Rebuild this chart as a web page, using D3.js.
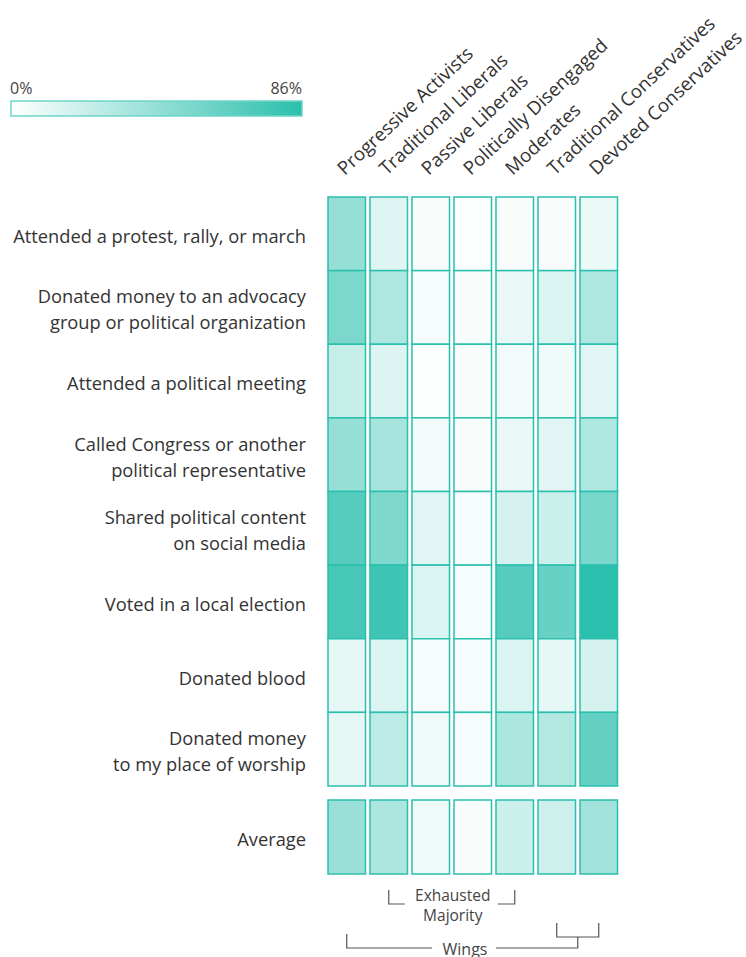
<!DOCTYPE html>
<html>
<head>
<meta charset="utf-8">
<script src="https://cdn.jsdelivr.net/npm/d3@7"></script>
<style>
  body { margin: 0; background: #fff; }
  svg { display: block; font-family: "Open Sans", Lato, sans-serif; }
</style>
</head>
<body>
<svg id="chart" width="746" height="957"></svg>
<script>
// groups (columns)
let groups = ["Progressive Activists", "Traditional Liberals", "Passive Liberals",
    "Politically Disengaged", "Moderates", "Traditional Conservatives", "Devoted Conservatives"];

// activities (rows), each label split into lines
let activities = [
    ["Attended a protest, rally, or march"],
    ["Donated money to an advocacy", "group or political organization"],
    ["Attended a political meeting"],
    ["Called Congress or another", "political representative"],
    ["Shared political content", "on social media"],
    ["Voted in a local election"],
    ["Donated blood"],
    ["Donated money", "to my place of worship"]
];

// percent of each group, one array per activity
let protestVals   = [43, 13, 3, 2, 3, 3, 8];
let donatedVals   = [53, 33, 4, 3, 9, 15, 33];
let meetingVals   = [23, 14, 2, 3, 5, 6, 12];
let congressVals  = [43, 36, 5, 3, 9, 12, 33];
let sharedVals    = [69, 52, 12, 4, 17, 21, 54];
let votedVals     = [75, 78, 15, 4, 69, 62, 86];
let bloodVals     = [10, 15, 4, 4, 15, 10, 17];
let worshipVals   = [10, 27, 7, 4, 34, 31, 63];
let averageVals   = [41, 34, 7, 3, 21, 20, 38];

let rowValues = [protestVals, donatedVals, meetingVals, congressVals,
    sharedVals, votedVals, bloodVals, worshipVals];

let legendMin = 0, legendMax = 86;
let teal = "#2bbfad";

let svg = d3.select("#chart");

let x = d3.scaleBand()
    .domain(groups)
    .range([328, 617.5])
    .paddingInner(0.107);

let y = d3.scaleBand()
    .domain(d3.range(activities.length))
    .range([197, 786]);

let color = d3.scaleLinear()
    .domain([legendMin, legendMax])
    .range(["#ffffff", teal]);

// legend
let defs = svg.append("defs");
let grad = defs.append("linearGradient").attr("id", "legendGrad");
grad.append("stop").attr("offset", "0%").attr("stop-color", color(legendMin));
grad.append("stop").attr("offset", "100%").attr("stop-color", color(legendMax));

svg.append("rect")
    .attr("x", 11).attr("y", 101)
    .attr("width", 291).attr("height", 15)
    .attr("fill", "url(#legendGrad)")
    .attr("stroke", "#6dd5c7")
    .attr("stroke-width", 1.5);

svg.append("text")
    .attr("x", 10).attr("y", 94)
    .attr("font-size", 16).attr("fill", "#444")
    .text(legendMin + "%");
svg.append("text")
    .attr("x", 302).attr("y", 94)
    .attr("text-anchor", "end")
    .attr("font-size", 16).attr("fill", "#444")
    .text(legendMax + "%");

// column labels
svg.append("g").selectAll("text")
    .data(groups)
    .enter()
    .append("text")
    .attr("transform", d => "translate(" + (x(d) + x.bandwidth() / 2 - 2) + ",176) rotate(-43)")
    .attr("font-size", 18.8)
    .attr("fill", "#333")
    .text(d => d);

// row labels
svg.append("g").selectAll("text")
    .data(activities)
    .enter()
    .append("text")
    .attr("text-anchor", "end")
    .attr("font-size", 18.3)
    .attr("fill", "#333")
    .each(function(lines, i) {
        let t = d3.select(this);
        let cy = y(i) + y.bandwidth() / 2;
        lines.forEach((line, j) => {
            t.append("tspan")
                .attr("x", 306)
                .attr("y", cy + 9 + (j - (lines.length - 1) / 2) * 26)
                .text(line);
        });
    });

// cells
let cells = svg.append("g");
rowValues.forEach((vals, i) => {
    cells.selectAll(null)
        .data(vals)
        .enter()
        .append("rect")
        .attr("x", (d, j) => x(groups[j]))
        .attr("y", y(i))
        .attr("width", x.bandwidth())
        .attr("height", y.bandwidth())
        .attr("fill", d => color(d))
        .attr("stroke", teal)
        .attr("stroke-width", 1.5);
});

// average row
let avgTop = 800, avgH = 74;
svg.append("g").selectAll("rect")
    .data(averageVals)
    .enter()
    .append("rect")
    .attr("x", (d, j) => x(groups[j]))
    .attr("y", avgTop)
    .attr("width", x.bandwidth())
    .attr("height", avgH)
    .attr("fill", d => color(d))
    .attr("stroke", teal)
    .attr("stroke-width", 1.5);

svg.append("text")
    .attr("x", 306).attr("y", avgTop + avgH / 2 + 9)
    .attr("text-anchor", "end")
    .attr("font-size", 18.3).attr("fill", "#333")
    .text("Average");

// group brackets
let cx = d => x(d) + x.bandwidth() / 2;
let br = svg.append("g").attr("fill", "none").attr("stroke", "#555").attr("stroke-width", 1.2);
let line = d3.line();

// Exhausted Majority: Traditional Liberals .. Moderates
let emL = cx(groups[1]), emR = cx(groups[4]);
br.append("path").attr("d", line([[emL, 890], [emL, 904], [emL + 16, 904]]));
br.append("path").attr("d", line([[emR - 17, 904], [emR, 904], [emR, 890]]));
svg.append("text")
    .attr("x", (emL + emR) / 2 + 1).attr("y", 900.5)
    .attr("text-anchor", "middle")
    .attr("font-size", 15.5).attr("fill", "#444")
    .text("Exhausted");
svg.append("text")
    .attr("x", (emL + emR) / 2 + 1).attr("y", 920.5)
    .attr("text-anchor", "middle")
    .attr("font-size", 15.5).attr("fill", "#444")
    .text("Majority");

// Wings: Progressive Activists + the two conservative groups
let wL = cx(groups[0]), cL = cx(groups[5]), cR = cx(groups[6]);
let cMid = (cL + cR) / 2;
br.append("path").attr("d", line([[cL, 923], [cL, 937], [cR, 937], [cR, 923]]));
br.append("path").attr("d", line([[cMid, 937], [cMid, 948], [496, 948]]));
br.append("path").attr("d", line([[wL, 934], [wL, 948], [432, 948]]));
svg.append("text")
    .attr("x", 465).attr("y", 955)
    .attr("text-anchor", "middle")
    .attr("font-size", 16).attr("fill", "#444")
    .text("Wings");
</script>
</body>
</html>
